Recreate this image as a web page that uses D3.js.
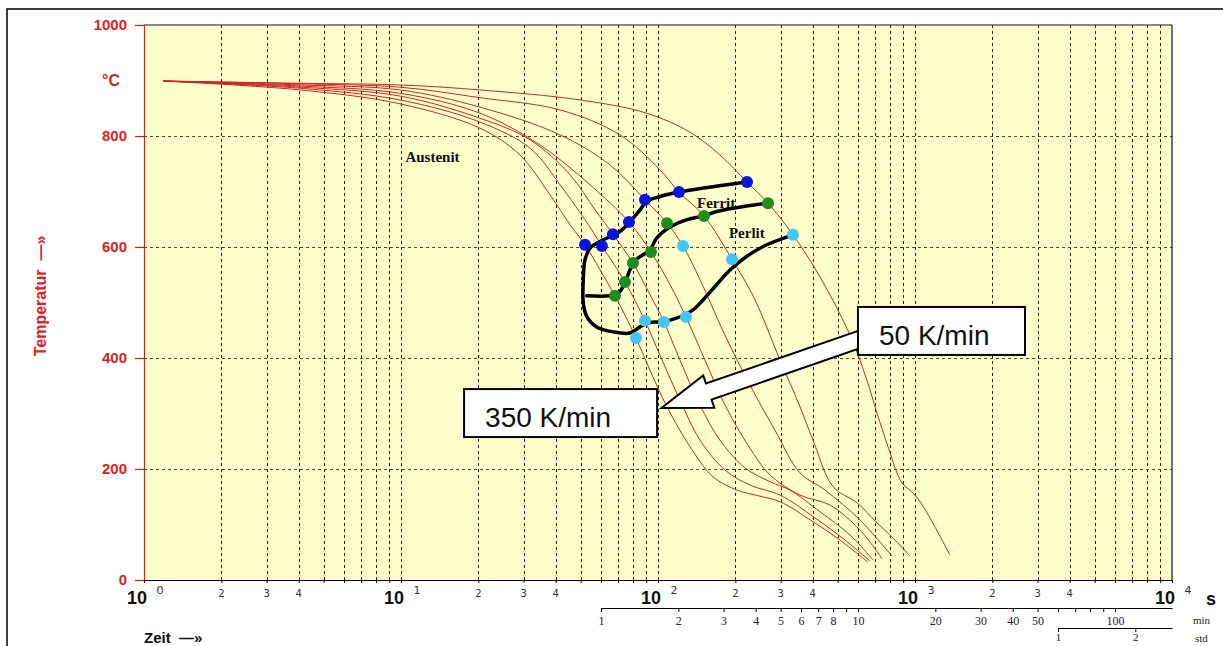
<!DOCTYPE html>
<html>
<head>
<meta charset="utf-8">
<script src="https://cdnjs.cloudflare.com/ajax/libs/d3/7.8.5/d3.min.js"></script>
<style>
    body { margin: 0; background: #fff; }
    svg { display: block; }
</style>
</head>
<body>
<div id="chart"></div>
<script>
// Cooling curves [time s, temperature °C], slowest (50 K/min) to fastest (350 K/min)
const curve50 = [[1.19,899],[4.05,895],[9.9,892],[20.3,883],[49.7,865],[90.6,841],[133,807],[174,766],[222,717],[268,679],[335,622],[427,546],[559,441],[650,360],[711,301],[800,229],[851,193],[890,175],[1000,153],[1114,121],[1368,45]];
const curveB = [[1.19,899],[4.05,894],[9.9,888],[20.3,869],[41.6,847],[71.1,802],[101.8,739],[120.7,699],[151,656],[194,578],[238.5,505],[293,405],[357,312],[401,252],[480,168],[595,139],[711,103],[836,72],[957,43]];
const curveC = [[1.19,899],[4.05,892],[9.9,883],[20.3,852],[41.6,802],[65,748],[89,685],[108.4,643],[125.1,602],[145.7,541],[182.3,441],[228,351],[285,270],[357,193],[447,162],[611,108],[814,43]];
const curveD = [[1.19,899],[4.05,890],[9.9,877],[20.3,841],[34.7,784],[54.4,712],[77.1,645],[93.9,591],[111.4,532],[128.5,474],[152.4,396],[182.3,315],[224,243],[273,189],[357,153],[467,135],[611,90],[745,38]];
const curveE = [[1.19,899],[4.05,888],[9.9,872],[20.3,832],[31.8,793],[45.5,730],[56.9,667],[66.8,623],[79.9,571],[93.1,514],[105.5,465],[121.8,396],[145.7,315],[174.2,252],[218,202],[273,177],[326,162],[427,123],[559,81],[687,36]];
const curveF = [[1.19,899],[4.05,886],[9.9,865],[20.3,825],[31.8,778],[41.6,712],[52,649],[60.5,602],[74.4,537],[89,467],[101.8,405],[121.8,324],[145.7,252],[182.3,198],[228,171],[298.5,153],[408,112],[534,72],[668,34]];
const curve350 = [[1.19,899],[4.05,883],[9.9,858],[20.3,814],[29,766],[38,694],[45.5,640],[52,604],[59.5,559],[68,512],[74.4,477],[82.1,436],[93.1,378],[108.4,312],[133.3,240],[163.7,186],[203,162],[249.5,151],[298.5,141],[401,105],[511,72],[656,32]];

// Transformation points
const ferritStart = [[52,604],[60.5,602],[66.8,623],[77.1,645],[89,685],[120.7,699],[222,717]];
const perlitStart = [[68,512],[74.4,537],[79.9,571],[93.9,591],[108.4,643],[151,656],[268,679]];
const perlitEnd = [[82.1,436],[89,467],[105.5,465],[128.5,474],[125.1,602],[194,578],[335,622]];

// Transformation region boundaries
const outerLine = [[221,717],[121,699],[102,691],[90.4,682],[85.1,667],[79,649],[71.1,628],[61.3,613],[54.4,598],[52,577],[51.2,541],[51.2,499],[52.8,475],[57.7,456],[67,447],[77.8,445],[85.1,456],[93.1,464],[104.9,465],[114.7,470],[127.4,478],[137.2,487],[150,505],[169,532],[191,559],[221,583],[265,604],[336,622]];
const innerLine = [[269,679],[221,674],[169,664],[151,656],[129,649],[111.4,636],[98.8,616],[93.1,595],[82.6,578],[77.8,559],[74.4,535],[70.1,517],[65.1,512],[52.8,512]];

// Axis tick values / labels
const yTicks = [0, 200, 400, 600, 800, 1000];
const yGrid = [200, 400, 600, 800];
const decades = [1, 10, 100, 1000, 10000];
const decadeExp = ["0", "1", "2", "3", "4"];
const minorLabels = [2, 3, 4];
const minTicks = [1,2,3,4,5,6,7,8,9,10,20,30,40,50,60,70,80,90,100];
const minLabels = [1,2,3,4,5,6,7,8,10,20,30,40,50,100];
const stdTicks = [1, 2];

// Phase labels [t, T]
const phaseLabels = [
    { text: "Austenit", t: 10.4, T: 753 },
    { text: "Ferrit", t: 141.8, T: 670 },
    { text: "Perlit", t: 188.8, T: 616 }
];
// Rate boxes: top-left corner [t, T]
const rateBoxes = [
    { text: "50 K/min", t: 600, T: 492, w: 167, h: 48 },
    { text: "350 K/min", t: 17.6, T: 344, w: 193, h: 48 }
];
const arrowFrom = [612, 434];
const arrowTo = [103.2, 310];

const width = 1223, height = 646;
const margin = { left: 144, top: 25, right: 51, bottom: 66 };
const red = "#e31c1c";

const svg = d3.select("#chart")
    .append("svg")
    .attr("width", width)
    .attr("height", height);

const x = d3.scaleLog().domain([1, 1e4]).range([margin.left, width - margin.right]);
const y = d3.scaleLinear().domain([0, 1000]).range([height - margin.bottom, margin.top]);

// Outer frame
svg.append("rect")
    .attr("x", 7).attr("y", 9)
    .attr("width", 1400).attr("height", 800)
    .attr("fill", "none").attr("stroke", "#000").attr("stroke-width", 1.5);

// Plot background
svg.append("rect")
    .attr("x", x(1)).attr("y", y(1000))
    .attr("width", x(1e4) - x(1)).attr("height", y(0) - y(1000))
    .attr("fill", "#ffffcc");

// Grid
svg.append("g")
    .selectAll("line")
    .data(x.ticks().filter(v => v > 1 && v < 1e4))
    .enter()
    .append("line")
    .attr("x1", d => Math.round(x(d)) + 0.5).attr("x2", d => Math.round(x(d)) + 0.5)
    .attr("y1", y(1000)).attr("y2", y(0))
    .attr("stroke", "#222").attr("stroke-width", 1).attr("stroke-dasharray", "3,3");

svg.append("g")
    .selectAll("line")
    .data(yGrid)
    .enter()
    .append("line")
    .attr("x1", x(1)).attr("x2", x(1e4))
    .attr("y1", d => Math.round(y(d)) + 0.5).attr("y2", d => Math.round(y(d)) + 0.5)
    .attr("stroke", "#444").attr("stroke-width", 1).attr("stroke-dasharray", "3,3");

// Top and right border
svg.append("line")
    .attr("x1", x(1)).attr("x2", x(1e4)).attr("y1", y(1000)).attr("y2", y(1000))
    .attr("stroke", "#111133").attr("stroke-width", 1.2);
svg.append("line")
    .attr("x1", x(1e4)).attr("x2", x(1e4)).attr("y1", y(1000)).attr("y2", y(0))
    .attr("stroke", "#111133").attr("stroke-width", 1.2);

// Cooling curves
const line = d3.line()
    .x(d => x(d[0]))
    .y(d => y(d[1]))
    .curve(d3.curveCatmullRom.alpha(0.5));

svg.append("g")
    .selectAll("path")
    .data([curve50, curveB, curveC, curveD, curveE, curveF, curve350])
    .enter()
    .append("path")
    .attr("d", line)
    .attr("fill", "none")
    .attr("stroke", "#d02424")
    .attr("stroke-width", 1);

// Transformation lines
svg.append("g")
    .selectAll("path")
    .data([outerLine, innerLine])
    .enter()
    .append("path")
    .attr("d", line)
    .attr("fill", "none")
    .attr("stroke", "#000")
    .attr("stroke-width", 3.5)
    .attr("stroke-linecap", "round");

// Points
const dotSets = [
    { data: ferritStart, color: "#0a14dc" },
    { data: perlitStart, color: "#1e8c1e" },
    { data: perlitEnd, color: "#3fc8f5" }
];
dotSets.forEach(set => {
    svg.append("g")
        .selectAll("circle")
        .data(set.data)
        .enter()
        .append("circle")
        .attr("cx", d => x(d[0]))
        .attr("cy", d => y(d[1]))
        .attr("r", 6)
        .attr("fill", set.color);
});

// Phase labels
svg.append("g")
    .selectAll("text")
    .data(phaseLabels)
    .enter()
    .append("text")
    .attr("x", d => x(d.t))
    .attr("y", d => y(d.T))
    .attr("font-family", "'Liberation Serif', 'Times New Roman', serif")
    .attr("font-weight", "bold")
    .attr("font-size", 15)
    .attr("fill", "#111")
    .text(d => d.text);

// Arrow
const p0 = [x(arrowFrom[0]), y(arrowFrom[1])];
const p1 = [x(arrowTo[0]), y(arrowTo[1])];
const len = Math.hypot(p1[0] - p0[0], p1[1] - p0[1]);
const u = [(p1[0] - p0[0]) / len, (p1[1] - p0[1]) / len];
const n = [-u[1], u[0]];
const sw = 8.5, hw = 17, hl = 50;
const base = [p1[0] - u[0] * hl, p1[1] - u[1] * hl];
const pt = (p, k) => [p[0] + n[0] * k, p[1] + n[1] * k];
const arrowPts = [pt(p0, sw), pt(base, sw), pt(base, hw), p1, pt(base, -hw), pt(base, -sw), pt(p0, -sw)];
svg.append("path")
    .attr("d", "M" + arrowPts.map(p => p.join(",")).join("L") + "Z")
    .attr("fill", "#fff")
    .attr("stroke", "#000")
    .attr("stroke-width", 2)
    .attr("stroke-linejoin", "miter");

// Rate boxes
const boxes = svg.append("g")
    .selectAll("g")
    .data(rateBoxes)
    .enter()
    .append("g")
    .attr("transform", d => `translate(${x(d.t)},${y(d.T)})`);
boxes.append("rect")
    .attr("width", d => d.w).attr("height", d => d.h)
    .attr("fill", "#fff").attr("stroke", "#000").attr("stroke-width", 2);
boxes.append("text")
    .attr("x", 21).attr("y", 38)
    .attr("font-family", "'Liberation Sans', Arial, sans-serif")
    .attr("font-size", 28)
    .attr("fill", "#111")
    .text(d => d.text);

// Y axis
const yAxis = d3.axisLeft(y).tickValues(yTicks).tickSize(9).tickSizeOuter(0).tickPadding(8)
    .tickFormat(d3.format("d"));
const gy = svg.append("g")
    .attr("transform", `translate(${x(1)},0)`)
    .call(yAxis);
gy.select(".domain").attr("stroke", red).attr("stroke-width", 1.2);
gy.selectAll(".tick line").attr("stroke", red).attr("stroke-width", 1.2);
gy.selectAll(".tick text")
    .attr("fill", red)
    .attr("font-family", "'Liberation Sans', Arial, sans-serif")
    .attr("font-weight", "bold")
    .attr("font-size", 15);

svg.append("text")
    .attr("x", 102).attr("y", 86)
    .attr("fill", red)
    .attr("font-family", "'Liberation Sans', Arial, sans-serif")
    .attr("font-weight", "bold")
    .attr("font-size", 16)
    .text("°C");

svg.append("text")
    .attr("transform", "translate(46,296) rotate(-90)")
    .attr("text-anchor", "middle")
    .attr("fill", red)
    .attr("font-family", "'Liberation Sans', Arial, sans-serif")
    .attr("font-weight", "bold")
    .attr("font-size", 16)
    .text("Temperatur\u00a0\u00a0—»");

// X axis
const xAxis = d3.axisBottom(x).tickValues(x.ticks()).tickSize(3).tickSizeOuter(0).tickFormat("");
const gx = svg.append("g")
    .attr("transform", `translate(0,${y(0)})`)
    .call(xAxis);
gx.select(".domain").attr("stroke", "#000").attr("stroke-width", 1.2);
gx.selectAll(".tick line").attr("stroke", "#000");

// Decade labels 10^n
decades.forEach((d, i) => {
    svg.append("text")
        .attr("x", x(d) + 3).attr("y", 604)
        .attr("text-anchor", "end")
        .attr("font-family", "'Liberation Sans', Arial, sans-serif")
        .attr("font-weight", "bold")
        .attr("font-size", 18)
        .attr("fill", "#111")
        .text("10");
    svg.append("text")
        .attr("x", x(d) + 16).attr("y", 594)
        .attr("text-anchor", "middle")
        .attr("font-family", "'DejaVu Sans', sans-serif")
        .attr("font-size", 11)
        .attr("fill", "#333")
        .text(decadeExp[i]);
});

// Minor labels 2, 3, 4 in each decade
const minorVals = [];
decades.slice(0, 4).forEach(d => minorLabels.forEach(k => minorVals.push({ v: k * d, k })));
svg.append("g")
    .selectAll("text")
    .data(minorVals)
    .enter()
    .append("text")
    .attr("x", d => x(d.v))
    .attr("y", 597)
    .attr("text-anchor", "middle")
    .attr("font-family", "'DejaVu Sans', sans-serif")
    .attr("font-size", 10)
    .attr("fill", "#333")
    .text(d => d.k);

svg.append("text")
    .attr("x", 1206).attr("y", 605)
    .attr("font-family", "'Liberation Sans', Arial, sans-serif")
    .attr("font-weight", "bold")
    .attr("font-size", 18)
    .attr("fill", "#111")
    .text("s");

// Minute scale
const xMin = d3.scaleLog().domain([1, 1e4 / 60]).range([x(60), x(1e4)]);
const gMin = svg.append("g")
    .attr("transform", "translate(0,608)")
    .call(d3.axisBottom(xMin).tickValues(minTicks).tickSize(4).tickSizeOuter(0)
        .tickFormat(d => minLabels.includes(d) ? d : ""));
// Hour scale
const xStd = d3.scaleLog().domain([1, 1e4 / 3600]).range([x(3600), x(1e4)]);
const gStd = svg.append("g")
    .attr("transform", "translate(0,628)")
    .call(d3.axisBottom(xStd).tickValues(stdTicks).tickSize(4).tickSizeOuter(0).tickPadding(1).tickFormat(d => d));

[gMin, gStd].forEach(g => {
    g.select(".domain").attr("stroke", "#000");
    g.selectAll(".tick line").attr("stroke", "#000");
    g.selectAll(".tick text")
        .attr("font-family", "'Liberation Serif', 'Times New Roman', serif")
        .attr("font-size", 12)
        .attr("fill", "#222");
});
gMin.selectAll(".tick text").attr("dy", "0.8em");
gStd.selectAll(".tick text").attr("font-size", 11).attr("dy", "0.7em");

svg.append("text")
    .attr("x", 1193).attr("y", 624)
    .attr("font-family", "'Liberation Serif', 'Times New Roman', serif")
    .attr("font-size", 11).attr("fill", "#222")
    .text("min");
svg.append("text")
    .attr("x", 1195).attr("y", 642)
    .attr("font-family", "'Liberation Serif', 'Times New Roman', serif")
    .attr("font-size", 11).attr("fill", "#222")
    .text("std");

svg.append("text")
    .attr("x", 144).attr("y", 643)
    .attr("font-family", "'Liberation Sans', Arial, sans-serif")
    .attr("font-weight", "bold")
    .attr("font-size", 15)
    .attr("fill", "#111")
    .text("Zeit\u00a0\u00a0—»");
</script>
</body>
</html>
